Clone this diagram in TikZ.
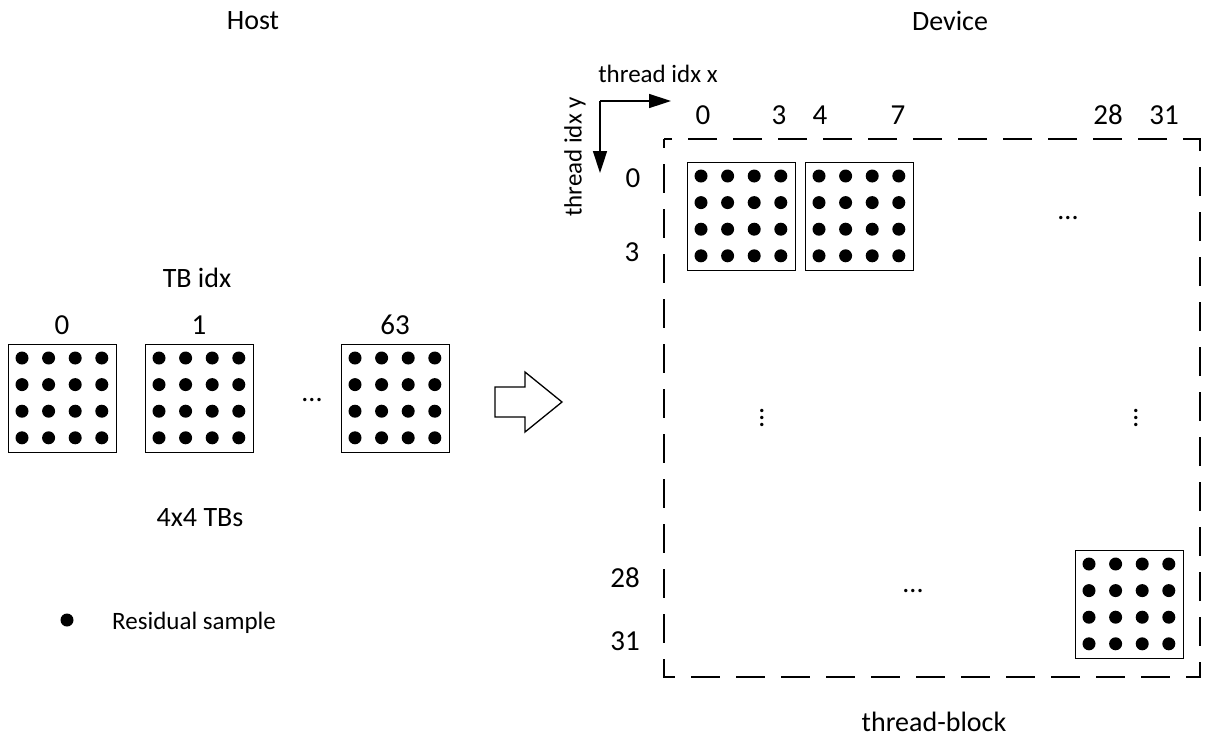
\documentclass[tikz,border=0pt]{standalone}
\usepackage{fontspec}
\setmainfont{Carlito}
\usetikzlibrary{arrows.meta}
\newcommand\tbgrid[3]{%
  \node[tb, anchor=north west] (#1) at (#2,#3) {};
  \foreach \i in {0,...,3}{\foreach \j in {0,...,3}{%
    \fill (#2+14+26.6*\i, #3+14+26.6*\j) circle (6.5pt);}}%
}
\begin{document}
\begin{tikzpicture}[x=1pt,y=-1pt,
  tb/.style={draw, line width=1.4pt, minimum width=108pt, minimum height=108pt, inner sep=0pt},
  lab/.style={font=\fontsize{28}{32}\selectfont, inner sep=0pt},
  num/.style={font=\fontsize{29}{33}\selectfont, inner sep=0pt},
  sml/.style={font=\fontsize{25}{29}\selectfont, inner sep=0pt},
  axis/.style={line width=1.5pt, -{Triangle[length=22pt,width=14pt]}}]
\useasboundingbox (0,0) rectangle (1206,740);
% Host side
\node[lab] (host) at (253,21) {Host};
\node[lab] (tbidx) at (197,278) {TB idx};
\node[num] (l0) at (62,325) {0};
\node[num] (l1) at (199,325) {1};
\node[num] (l63) at (395,325) {63};
\tbgrid{h0}{8}{344}
\tbgrid{h1}{145}{344}
\tbgrid{h63}{341}{344}
\node[lab] (hdots) at (312,400) {...};
\node[lab] (tbs) at (200,518) {4x4 TBs};
\fill (67,620) circle (6.5pt) coordinate (legdot);
\node[anchor=west, sml] (leg) at (112,623) {Residual sample};
% hollow arrow
\draw[line width=1.3pt, line join=miter] (495,387) -- (525,387) -- (525,372) -- (562,402) -- (525,432) -- (525,417) -- (495,417) -- cycle;
% Device side
\node[lab] (dev) at (950,21) {Device};
\coordinate (o) at (600,101);
\coordinate (xe) at (671,101);
\coordinate (ye) at (600,173);
\draw[axis] (o) -- (xe);
\draw[axis] (o) -- (ye);
\node[sml] (tx) at (658,74) {thread idx x};
\node[sml, rotate=90] (ty) at (575,157) {thread idx y};
\draw[line width=1.3pt, dash pattern=on 29pt off 16pt, dash phase=20pt] (664,139) rectangle (1200,677);
\node[num] (c0) at (703,115) {0};
\node[num] (c3) at (779,115) {3};
\node[num] (c4) at (820,115) {4};
\node[num] (c7) at (898,115) {7};
\node[num] (c28) at (1108,115) {28};
\node[num] (c31) at (1164,115) {31};
\node[num] (r0) at (633,178) {0};
\node[num] (r3) at (632,252) {3};
\node[num] (r28) at (625,578) {28};
\node[num] (r31) at (625,641) {31};
\tbgrid{d1}{687}{162}
\tbgrid{d2}{805}{162}
\tbgrid{d3}{1075}{550}
\node[lab] (dd1) at (1068,218) {...};
\node[lab, rotate=90] (dd2) at (762,418) {...};
\node[lab, rotate=90] (dd3) at (1136,418) {...};
\node[lab] (dd4) at (913,591) {...};
\node[lab] (tblk) at (934,722) {thread-block};
\end{tikzpicture}
\end{document}
